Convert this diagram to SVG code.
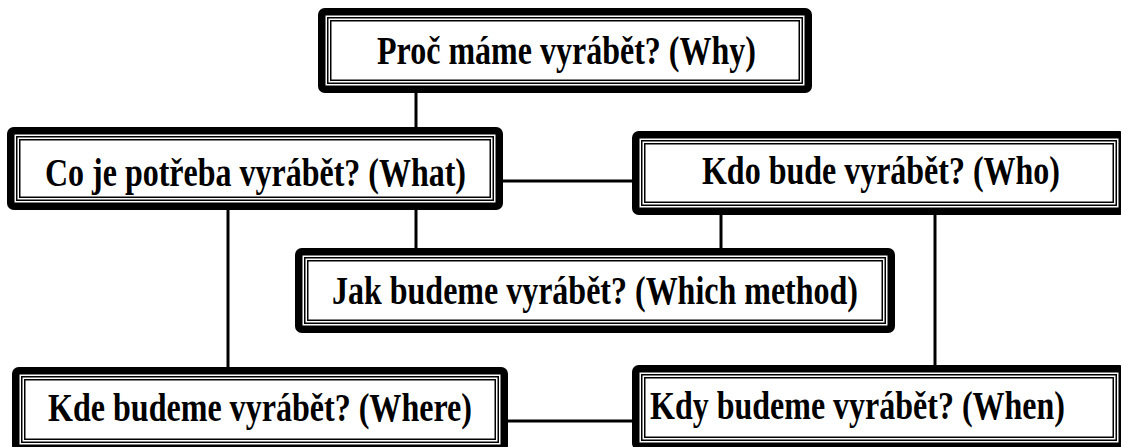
<svg xmlns="http://www.w3.org/2000/svg" width="1121" height="447" viewBox="0 0 1121 447">
<style>
.o{fill:#fff;stroke:#000;stroke-width:7.5}
.i{fill:none;stroke:#000;stroke-width:1.5}
.t{font-family:"Liberation Serif","Times New Roman",serif;font-weight:bold;font-size:39px;fill:#000}
.c{stroke:#000;stroke-width:3;fill:none}
</style>
<rect width="1121" height="447" fill="#fff"/>
<g id="connectors">
<line class="c" x1="416" y1="93" x2="416" y2="127"/>
<line class="c" x1="416" y1="210" x2="416" y2="248"/>
<line class="c" x1="228" y1="210" x2="228" y2="367"/>
<line class="c" x1="503" y1="181" x2="632" y2="181"/>
<line class="c" x1="721" y1="215" x2="721" y2="248"/>
<line class="c" x1="935" y1="215" x2="935" y2="365"/>
<line class="c" x1="508" y1="421" x2="632" y2="421"/>
</g>
<g id="why">
<rect class="o" x="321.75" y="11.75" width="486.5" height="77.5" rx="3"/>
<rect class="i" x="327.75" y="17.75" width="474.5" height="65.5"/>
<rect class="i" x="330.75" y="20.75" width="468.5" height="59.5"/>
<text class="t" x="377" y="64" textLength="379" lengthAdjust="spacingAndGlyphs">Proč máme vyrábět? (Why)</text>
</g>
<g id="what">
<rect class="o" x="10.75" y="130.75" width="488.5" height="75.5" rx="3"/>
<rect class="i" x="16.75" y="136.75" width="476.5" height="63.5"/>
<rect class="i" x="19.75" y="139.75" width="470.5" height="57.5"/>
<text class="t" x="45" y="186" textLength="421" lengthAdjust="spacingAndGlyphs">Co je potřeba vyrábět? (What)</text>
</g>
<g id="who">
<rect class="o" x="635.75" y="134.75" width="486.5" height="76.5" rx="3"/>
<rect class="i" x="641.75" y="140.75" width="474.5" height="64.5"/>
<rect class="i" x="644.75" y="143.75" width="468.5" height="58.5"/>
<text class="t" x="702" y="184" textLength="358" lengthAdjust="spacingAndGlyphs">Kdo bude vyrábět? (Who)</text>
</g>
<g id="jak">
<rect class="o" x="298.75" y="251.75" width="592.5" height="77.5" rx="3"/>
<rect class="i" x="304.75" y="257.75" width="580.5" height="65.5"/>
<rect class="i" x="307.75" y="260.75" width="574.5" height="59.5"/>
<text class="t" x="332" y="304" textLength="526" lengthAdjust="spacingAndGlyphs">Jak budeme vyrábět? (Which method)</text>
</g>
<g id="kde">
<rect class="o" x="15.75" y="370.75" width="488.5" height="77.5" rx="3"/>
<rect class="i" x="21.75" y="376.75" width="476.5" height="65.5"/>
<rect class="i" x="24.75" y="379.75" width="470.5" height="59.5"/>
<text class="t" x="48" y="421" textLength="424" lengthAdjust="spacingAndGlyphs">Kde budeme vyrábět? (Where)</text>
</g>
<g id="kdy">
<rect class="o" x="635.75" y="368.75" width="486.5" height="77.5" rx="3"/>
<rect class="i" x="641.75" y="374.75" width="474.5" height="65.5"/>
<rect class="i" x="644.75" y="377.75" width="468.5" height="59.5"/>
<text class="t" x="650" y="419" textLength="415" lengthAdjust="spacingAndGlyphs">Kdy budeme vyrábět? (When)</text>
</g>
</svg>
